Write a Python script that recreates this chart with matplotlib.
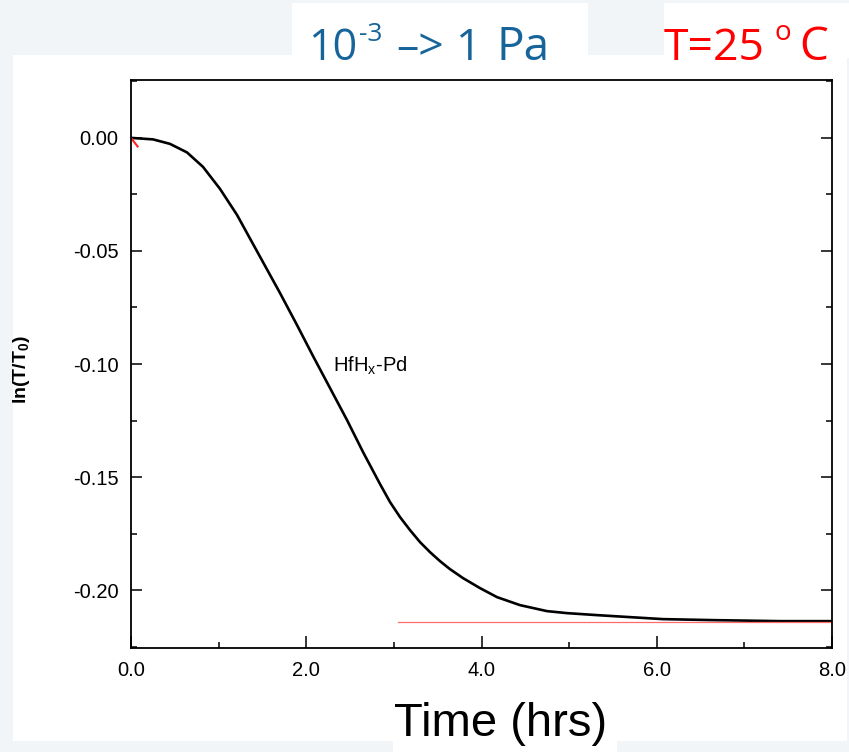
import matplotlib
matplotlib.use("Agg")
import matplotlib.pyplot as plt
from matplotlib.patches import Rectangle
from matplotlib.ticker import MultipleLocator, FormatStrFormatter

plt.rcParams['axes.unicode_minus'] = False
plt.rcParams['font.family'] = ['Liberation Sans', 'DejaVu Sans']
plt.rcParams['mathtext.fontset'] = 'custom'
plt.rcParams['mathtext.rm'] = 'Liberation Sans'
plt.rcParams['mathtext.it'] = 'Liberation Sans'
plt.rcParams['mathtext.bf'] = 'Liberation Sans:bold'

# ---- data ----
time_hrs = [0.0, 0.251, 0.445, 0.639, 0.822, 1.016, 1.210, 1.392, 1.700,
            1.894, 2.077, 2.271, 2.465, 2.648, 2.842, 2.956, 3.070, 3.184,
            3.298, 3.412, 3.526, 3.640, 3.789, 3.983, 4.177, 4.439, 4.747,
            4.976, 5.318, 5.695, 6.071, 6.642, 7.407, 8.0]
ln_ratio = [0.0, -0.00066, -0.00265, -0.00642, -0.01283, -0.02257, -0.03407,
            -0.04690, -0.06858, -0.08274, -0.09646, -0.11062, -0.12478,
            -0.13894, -0.15310, -0.16106, -0.16770, -0.17345, -0.17876,
            -0.18319, -0.18717, -0.19071, -0.19469, -0.19912, -0.20310,
            -0.20664, -0.20929, -0.21018, -0.21106, -0.21195, -0.21283,
            -0.21327, -0.21372, -0.21372]
start_mark_t = [0.0, 0.075]
start_mark_y = [0.0, -0.0038]
plateau_t = [3.05, 8.0]
plateau_y = [-0.2143, -0.2143]

x_ticks = [0, 2, 4, 6, 8]
y_ticks = [-0.20, -0.15, -0.10, -0.05, 0.00]

W, H = 849, 752
fig = plt.figure(figsize=(W / 100, H / 100), dpi=100)
fig.patch.set_facecolor('#f2f5f8')

def box(x0, y0, x1, y1):
    fig.patches.append(Rectangle((x0 / W, 1 - y1 / H), (x1 - x0) / W, (y1 - y0) / H,
                                 transform=fig.transFigure, facecolor='white',
                                 edgecolor='none', zorder=-10))

box(13, 55, 847, 741)
box(292, 3, 588, 58)
box(664, 3, 849, 58)
box(393, 740, 617, 752)

ax = fig.add_axes([131 / W, 1 - 648 / H, (832 - 131) / W, (648 - 80) / H])
ax.set_facecolor('white')

ax.plot(time_hrs, ln_ratio, color='black', lw=1.9, solid_joinstyle='round')
ax.plot(start_mark_t, start_mark_y, color='#ff2020', lw=1.5)
ax.plot(plateau_t, plateau_y, color='#ff6b6b', lw=0.9)

ax.set_xlim(0, 8)
ax.set_ylim(-0.2256, 0.0256)
ax.set_xticks(x_ticks)
ax.xaxis.set_minor_locator(MultipleLocator(1))
ax.set_yticks(y_ticks)
ax.yaxis.set_minor_locator(MultipleLocator(0.025))
ax.xaxis.set_major_formatter(FormatStrFormatter('%.1f'))
ax.yaxis.set_major_formatter(FormatStrFormatter('%.2f'))

ax.tick_params(axis='x', which='both', direction='in', top=False, bottom=True,
               labelsize=14.5, pad=9, width=1.1)
ax.tick_params(axis='x', which='major', length=9)
ax.tick_params(axis='x', which='minor', length=4.5)
ax.tick_params(axis='y', which='both', direction='in', left=True, right=True,
               labelsize=14.5, pad=9, width=1.1)
ax.tick_params(axis='y', which='major', length=8)
ax.tick_params(axis='y', which='minor', length=4)
for s in ax.spines.values():
    s.set_linewidth(1.3)
    s.set_color('black')

ax.text(2.3, -0.1035, r'HfH$_\mathregular{x}$-Pd', fontsize=14.5)

fig.text(22 / W, 1 - 370 / H, r'ln(T/T$_\mathbf{0}$)', rotation=90,
         fontsize=14, fontweight='bold', ha='center', va='center')
fig.text(501 / W, 1 - 724 / H, 'Time (hrs)', fontsize=34, ha='center',
         va='center', color='black')

blue = '#17649a'
base = 1 - 60 / H
fig.text(308 / W, base, '10', fontsize=31, color=blue, family='Open Sans', va='baseline')
fig.text(359 / W, 1 - 41 / H, '-3', fontsize=19, color=blue, family='Open Sans', va='baseline')
fig.text(396 / W, base, '–>', fontsize=32, color=blue, family='Open Sans', va='baseline')
fig.text(456 / W, base, '1', fontsize=32, color=blue, family='Open Sans', va='baseline')
fig.text(496 / W, base, 'Pa', fontsize=33, color=blue, family='Open Sans', va='baseline')

red = '#ff0000'
fig.text(664 / W, base, 'T=25', fontsize=32, color=red, family='Open Sans', va='baseline')
fig.text(774 / W, 1 - 40 / H, 'o', fontsize=20, color=red, family='Open Sans', va='baseline')
fig.text(799 / W, base, 'C', fontsize=33, color=red, family='Open Sans', va='baseline')

fig.savefig('out.png', dpi=100, facecolor=fig.get_facecolor())
